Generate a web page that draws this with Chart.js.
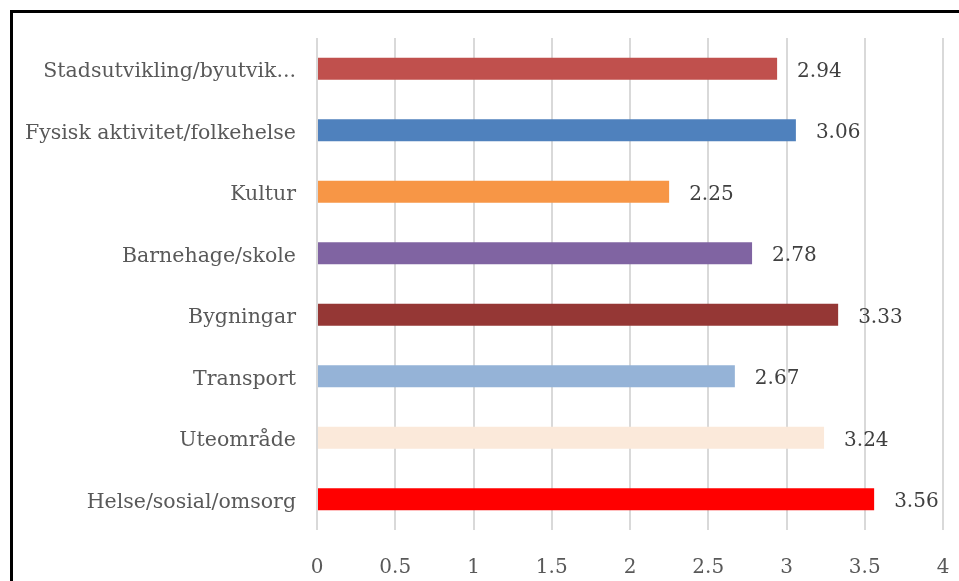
<!DOCTYPE html>
<html>
<head>
<meta charset="utf-8">
<script src="https://cdn.jsdelivr.net/npm/chart.js@4.4.1/dist/chart.umd.min.js"></script>
<style>
  html, body { margin: 0; padding: 0; background: #fff; overflow: hidden; }
  #wrap { position: relative; width: 959px; height: 581px; }
  #frame { position: absolute; left: 10px; top: 10px; width: 1000px; height: 700px; border: 3px solid #000; box-sizing: border-box; }
  canvas { position: absolute; left: 0; top: 0; }
</style>
</head>
<body>
<div id="wrap">
  <div id="frame"></div>
  <canvas id="barChart" width="959" height="581"></canvas>
</div>
<script>
// categories, top to bottom
var categories = [
    'Stadsutvikling/byutvik...',
    'Fysisk aktivitet/folkehelse',
    'Kultur',
    'Barnehage/skole',
    'Bygningar',
    'Transport',
    'Uteområde',
    'Helse/sosial/omsorg'
];
var values = [2.94, 3.06, 2.25, 2.78, 3.33, 2.67, 3.24, 3.56];
var barColors = ['#C0504D', '#4F81BD', '#F79646', '#8064A2', '#953735', '#95B3D7', '#FBE9DA', '#FF0000'];
var xTicks = [0, 0.5, 1, 1.5, 2, 2.5, 3, 3.5, 4];

var fontFamily = '"DejaVu Serif", "Liberation Serif", serif';

// draws the value next to each bar
var valueLabels = {
    id: 'valueLabels',
    afterDatasetsDraw: function(chart) {
        var ctx = chart.ctx;
        var meta = chart.getDatasetMeta(0);
        ctx.save();
        ctx.font = '20px ' + fontFamily;
        ctx.fillStyle = '#404040';
        ctx.textAlign = 'left';
        ctx.textBaseline = 'middle';
        meta.data.forEach(function(bar, i) {
            ctx.fillText(values[i].toFixed(2), bar.x + 20, bar.y + 3);
        });
        ctx.restore();
    }
};

var ctx = document.getElementById('barChart').getContext('2d');
var barChart = new Chart(ctx, {
    type: 'bar',
    data: {
        labels: categories,
        datasets: [{
            data: values,
            backgroundColor: barColors,
            borderWidth: 0,
            barPercentage: 0.36,
            categoryPercentage: 1.0
        }]
    },
    options: {
        indexAxis: 'y',
        responsive: false,
        animation: false,
        layout: {
            padding: { left: 0, right: 16, top: 38, bottom: 0 }
        },
        plugins: {
            legend: { display: false },
            tooltip: { enabled: false }
        },
        scales: {
            x: {
                min: 0,
                max: 4,
                afterBuildTicks: function(scale) {
                    scale.ticks = xTicks.map(function(v) { return { value: v }; });
                },
                afterFit: function(scale) {
                    scale.height = 51;
                    scale.paddingLeft = 0;
                    scale.paddingRight = 0;
                },
                border: { display: false },
                grid: { color: '#D9D9D9', lineWidth: 2, drawTicks: false },
                ticks: {
                    color: '#595959',
                    padding: 26,
                    font: { family: fontFamily, size: 20 },
                    callback: function(value) { return String(value); }
                }
            },
            y: {
                afterFit: function(scale) { scale.width = 317; },
                border: { display: false },
                grid: { display: false, drawTicks: false },
                ticks: {
                    color: '#595959',
                    padding: 21,
                    labelOffset: 3,
                    font: { family: fontFamily, size: 20.5 }
                }
            }
        }
    },
    plugins: [valueLabels]
});
</script>
</body>
</html>
